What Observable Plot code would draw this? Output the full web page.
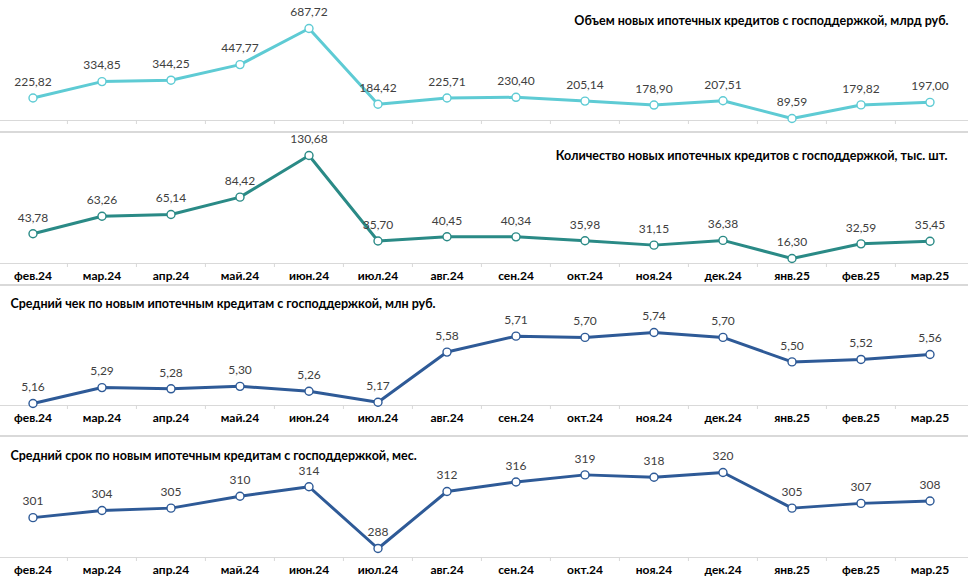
<!DOCTYPE html>
<html><head><meta charset="utf-8">
<script src="https://cdn.jsdelivr.net/npm/d3@7"></script>
<script src="https://cdn.jsdelivr.net/npm/@observablehq/plot@0.6"></script>
<style>
body{margin:0;background:#fff;}
#chart{position:relative;width:968px;height:585px;overflow:hidden;font-family:Lato,sans-serif;background:#fff;}
.panel{position:absolute;left:0;}
.sep{position:absolute;left:0;width:968px;height:2px;background:#d9d9d9;}
</style></head><body><div id="chart"></div>
<script>
const months = ["фев.24","мар.24","апр.24","май.24","июн.24","июл.24","авг.24","сен.24","окт.24","ноя.24","дек.24","янв.25","фев.25","мар.25"];
const volume = [225.82,334.85,344.25,447.77,687.72,184.42,225.71,230.40,205.14,178.90,207.51,89.59,179.82,197.00];
const count = [43.78,63.26,65.14,84.42,130.68,35.70,40.45,40.34,35.98,31.15,36.38,16.30,32.59,35.45];
const avgCheck = [5.16,5.29,5.28,5.30,5.26,5.17,5.58,5.71,5.70,5.74,5.70,5.50,5.52,5.56];
const avgTerm = [301,304,305,310,314,288,312,316,319,318,320,305,307,308];
const titles = [
  "Объем новых ипотечных кредитов с господдержкой, млрд руб.",
  "Количество новых ипотечных кредитов с господдержкой, тыс. шт.",
  "Средний чек по новым ипотечным кредитам с господдержкой, млн руб.",
  "Средний срок по новым ипотечным кредитам с господдержкой, мес."
];
const colors = ["#5ecbd4", "#2a8a86", "#2e5a97", "#2e5a97"];

const W = 968, X0 = -3, X1 = 965;
const step = (X1 - X0) / months.length;
const root = document.getElementById("chart");

function panel(cfg) {
  const {values, color, title, align, top, height, axisY, maxY, minY, showLabels, titleY, titleX, decimals} = cfg;
  const data = months.map((m, i) => ({m, v: values[i]}));
  const fmt = v => v.toFixed(decimals).replace(".", ",");
  const [lo, hi] = d3.extent(values);
  const marks = [
    Plot.frame({anchor: "bottom", stroke: "#d9d9d9", strokeWidth: 1}),
    Plot.ruleX(months.slice(1), {x: d => d, dx: -step / 2, insetTop: axisY, insetBottom: -4, stroke: "#d9d9d9"}),
    Plot.line(data, {x: "m", y: "v", stroke: color, strokeWidth: 3}),
    Plot.dot(data, {x: "m", y: "v", r: 4, fill: "white", stroke: color, strokeWidth: 1.4}),
    Plot.text(data, {x: "m", y: "v", text: d => fmt(d.v), dy: -16, fill: "#404040", fontSize: 12}),
    Plot.text([title], {frameAnchor: align === "right" ? "top-right" : "top-left", text: d => d,
      dx: align === "right" ? -titleX : titleX, dy: titleY, lineAnchor: "middle",
      textAnchor: align === "right" ? "end" : "start", fontWeight: "bold", fontSize: 12.5, fill: "#000"})
  ];
  if (showLabels) marks.push(Plot.axisX({tickSize: 0, tickPadding: 8, fontWeight: "bold", fontSize: 12, fill: "#000", label: null}));
  const svg = Plot.plot({
    width: W, height, marginTop: 0, marginLeft: 0, marginRight: 0, marginBottom: height - axisY,
    x: {type: "band", domain: months, range: [X0, X1], padding: 0, ...(showLabels ? {} : {axis: null})},
    y: {domain: [lo, hi], range: [minY, maxY], axis: null},
    style: {fontFamily: "Lato, sans-serif", overflow: "visible", background: "transparent"},
    marks
  });
  const wrap = document.createElement("div");
  wrap.className = "panel";
  wrap.style.top = top + "px";
  wrap.appendChild(svg);
  root.appendChild(wrap);
}

panel({values: volume, color: colors[0], title: titles[0], align: "right", top: 0, height: 131, axisY: 120, maxY: 28, minY: 118, showLabels: false, titleY: 20, titleX: 20, decimals: 2});
panel({values: count, color: colors[1], title: titles[1], align: "right", top: 133, height: 151, axisY: 130, maxY: 22, minY: 125, showLabels: true, titleY: 22, titleX: 21, decimals: 2});
panel({values: avgCheck, color: colors[2], title: titles[2], align: "left", top: 286, height: 149, axisY: 119, maxY: 46, minY: 117, showLabels: true, titleY: 17, titleX: 10, decimals: 2});
panel({values: avgTerm, color: colors[3], title: titles[3], align: "left", top: 437, height: 148, axisY: 120, maxY: 35, minY: 111, showLabels: true, titleY: 18, titleX: 10, decimals: 0});

[131, 284, 435].forEach(y => {
  const s = document.createElement("div");
  s.className = "sep"; s.style.top = y + "px";
  root.appendChild(s);
});
</script></body></html>
